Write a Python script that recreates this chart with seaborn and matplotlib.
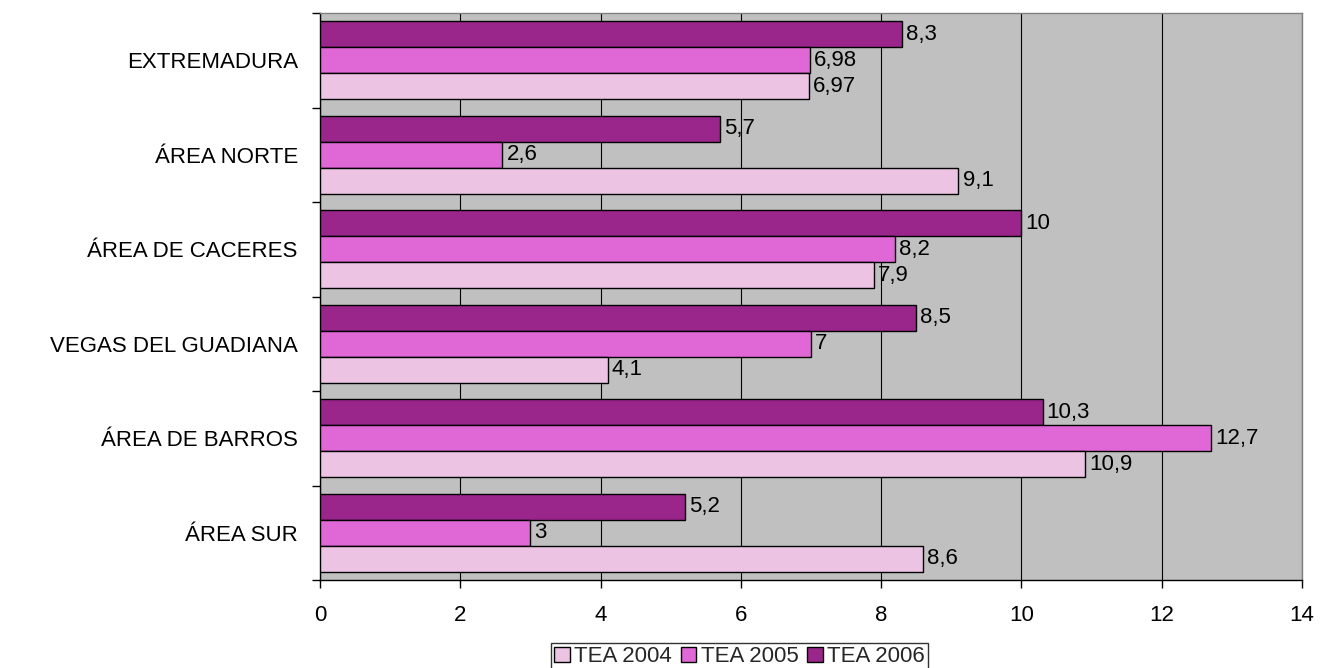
import matplotlib
matplotlib.use("Agg")
import matplotlib.pyplot as plt
import seaborn as sns
import pandas as pd
import numpy as np
from matplotlib.patches import Patch

# data
regions = ["EXTREMADURA", "ÁREA NORTE", "ÁREA DE CACERES",
           "VEGAS DEL GUADIANA", "ÁREA DE BARROS", "ÁREA SUR"]
tea_2004 = [6.97, 9.1, 7.9, 4.1, 10.9, 8.6]
tea_2005 = [6.98, 2.6, 8.2, 7.0, 12.7, 3.0]
tea_2006 = [8.3, 5.7, 10.0, 8.5, 10.3, 5.2]
series = ["TEA 2004", "TEA 2005", "TEA 2006"]
colors = {"TEA 2004": "#ECC3E3", "TEA 2005": "#E067D6", "TEA 2006": "#9A268B"}

df = pd.DataFrame({"region": regions * 3,
                   "serie": [s for s in series for _ in regions],
                   "valor": tea_2004 + tea_2005 + tea_2006})

sns.set_style("white")
plt.rcParams["font.family"] = ["Liberation Sans", "DejaVu Sans"]
fs = 16

fig = plt.figure(figsize=(13.3, 6.68), dpi=100)
ax = fig.add_axes([0.2406, 0.1317, 0.7384, 0.8488])
ax.set_facecolor("#C0C0C0")

# 2006 on top within each group, as in the original
order_hue = ["TEA 2006", "TEA 2005", "TEA 2004"]
sns.barplot(data=df, y="region", x="valor", hue="serie", hue_order=order_hue,
            order=regions, palette=colors, saturation=1, width=0.83, orient="h",
            edgecolor="black", linewidth=1.0, ax=ax, legend=False, zorder=3)

def fmt(v):
    s = ("%.2f" % v).rstrip("0").rstrip(".")
    return s.replace(".", ",")

for cont in ax.containers:
    labels = [fmt(b.get_width()) for b in cont]
    ax.bar_label(cont, labels=labels, padding=3, fontsize=fs, color="black", zorder=4)

ax.set_xlim(0, 14)
ax.set_xticks(np.arange(0, 15, 2))
ax.set_ylim(len(regions) - 0.5, -0.5)
ax.set_xlabel("")
ax.set_ylabel("")
ax.grid(axis="x", color="black", linewidth=0.8, zorder=0)
ax.set_axisbelow(True)

ax.tick_params(axis="y", which="major", left=False, length=0, pad=16,
               labelsize=fs, labelcolor="black")
ax.set_yticks(np.arange(-0.5, len(regions), 1), minor=True)
ax.tick_params(axis="y", which="minor", left=True, length=6, width=1,
               direction="out", color="black")
ax.tick_params(axis="x", bottom=True, length=6, width=1, direction="out",
               color="black", labelsize=fs, labelcolor="black", pad=12)

for s in ["left", "bottom"]:
    ax.spines[s].set_color("black")
    ax.spines[s].set_linewidth(1.0)
for s in ["top", "right"]:
    ax.spines[s].set_color("#808080")
    ax.spines[s].set_linewidth(1.0)

handles = [Patch(facecolor=colors[s], edgecolor="black", label=s) for s in series]
leg = fig.legend(handles=handles, loc="center", bbox_to_anchor=(0.556, 0.0165),
                 ncol=3, frameon=True, fancybox=False, fontsize=fs,
                 handlelength=0.7, handleheight=0.7, handletextpad=0.2,
                 columnspacing=0.4, borderpad=0.15, borderaxespad=0)
leg.get_frame().set_edgecolor("black")
leg.get_frame().set_linewidth(1.0)

fig.savefig("out.png", dpi=100)
